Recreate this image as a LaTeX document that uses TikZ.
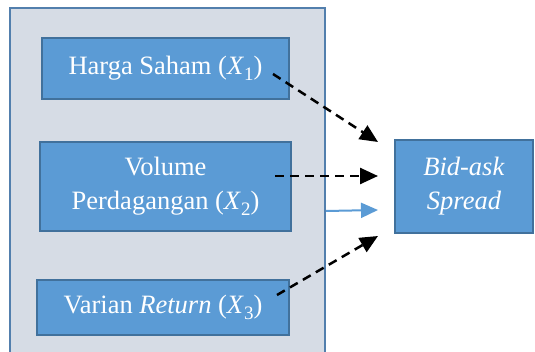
\documentclass[tikz,border=0pt]{standalone}
\usepackage{fontspec}
\setmainfont{Liberation Serif}
\usetikzlibrary{arrows.meta}
\definecolor{outerfill}{HTML}{D6DCE5}
\definecolor{outerline}{HTML}{527FAD}
\definecolor{boxfill}{HTML}{5B9BD5}
\definecolor{boxline}{HTML}{41719C}
\newcommand{\myvar}[1]{\textit{X}\raisebox{-6pt}{\fontsize{19}{19}\selectfont #1}}
\begin{document}
\begin{tikzpicture}[x=1pt,y=-1pt,
  varbox/.style={draw=boxline,fill=boxfill,line width=2pt,text=white,align=center,
    inner sep=0pt,font=\fontsize{26.5}{34}\selectfont},
  darrow/.style={draw=black,line width=2.5pt,dash pattern=on 9pt off 6pt,
    -{Triangle[length=18pt,width=16pt]}},
  barrow/.style={draw=boxfill,line width=2pt,-{Triangle[length=17pt,width=15pt]}}]
\path[use as bounding box,clip] (0,0) rectangle (535,352);
\node[draw=outerline,fill=outerfill,line width=2pt,minimum width=315pt,minimum height=370pt,
  anchor=north west,inner sep=0pt] (outer) at (9,7) {};
\node[varbox,minimum width=247pt,minimum height=61pt] (x1) at (165.5,68.5)
  {Harga Saham (\myvar{1})};
\node[varbox,minimum width=251pt,minimum height=89pt] (x2) at (165.5,186.5)
  {Volume\\Perdagangan (\myvar{2})};
\node[varbox,minimum width=252pt,minimum height=55pt] (x3) at (163,307.5)
  {Varian \textit{Return} (\myvar{3})};
\node[varbox,minimum width=138pt,minimum height=93pt] (y) at (464,186.5)
  {\textit{Bid-ask}\\\textit{Spread}};
\coordinate (s1) at (273,74);
\coordinate (t1) at (378,142);
\coordinate (s2) at (275,176);
\coordinate (t2) at (378,176);
\coordinate (s3) at (outer.east |- 0,211);
\coordinate (t3) at (378,210);
\coordinate (s4) at (277,295);
\coordinate (t4) at (378,236);
\draw[darrow] (s1) -- (t1);
\draw[darrow] (s2) -- (t2);
\draw[barrow] (s3) -- (t3);
\draw[darrow] (s4) -- (t4);
\end{tikzpicture}
\end{document}
